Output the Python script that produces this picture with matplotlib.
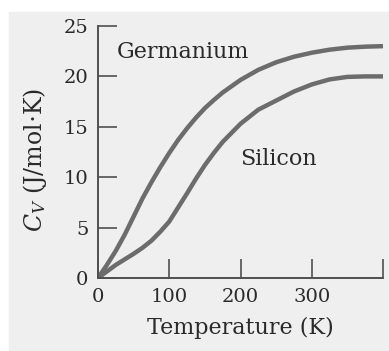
import matplotlib
matplotlib.use("Agg")
import matplotlib.pyplot as plt
from matplotlib.patches import Rectangle

# values
temp_k = [0, 12.5, 25, 37.5, 50, 62.5, 75, 87.5, 100, 112.5, 125, 137.5, 150, 162.5, 175, 200, 225, 250, 275, 300, 325, 350, 375, 400]
germanium = [0, 1.3, 2.7, 4.3, 6.1, 7.9, 9.5, 11.0, 12.4, 13.7, 14.85, 15.9, 16.85, 17.65, 18.4, 19.65, 20.65, 21.4, 21.95, 22.35, 22.65, 22.85, 22.95, 23.0]
silicon = [0, 0.65, 1.3, 1.85, 2.4, 3.0, 3.7, 4.6, 5.6, 7.0, 8.4, 9.85, 11.2, 12.4, 13.5, 15.3, 16.7, 17.6, 18.5, 19.2, 19.7, 19.95, 20.0, 20.0]

x_ticks = [0, 100, 200, 300, 400]
x_tick_labels = ["0", "100", "200", "300", ""]
y_ticks = [0, 5, 10, 15, 20, 25]

plt.rcParams['font.family'] = ['DejaVu Serif']
plt.rcParams['mathtext.fontset'] = 'dejavuserif'

fig = plt.figure(figsize=(3.89, 3.51), dpi=100)
fig.patches.append(Rectangle((9 / 389, 0), 380 / 389, 339 / 351,
                             transform=fig.transFigure, color='#efefef', zorder=-10))

ax = fig.add_axes([98 / 389, 1 - 278 / 351, 285 / 389, 252 / 351])
ax.patch.set_visible(False)
ax.set_zorder(5)

line_col = '#6c6c6c'
ax.plot(temp_k, germanium, color=line_col, lw=3.2, solid_capstyle='butt', solid_joinstyle='round')
ax.plot(temp_k, silicon, color=line_col, lw=3.2, solid_capstyle='butt', solid_joinstyle='round')

ax.set_xlim(0, 400)
ax.set_ylim(0, 25)
ax.set_xticks(x_ticks)
ax.set_xticklabels(x_tick_labels)
ax.set_yticks(y_ticks)

for s in ['top', 'right']:
    ax.spines[s].set_visible(False)
for s in ['left', 'bottom']:
    ax.spines[s].set_color('#505050')
    ax.spines[s].set_linewidth(1.4)

ax.tick_params(direction='in', length=13.5, width=1.2, color='#505050',
               labelsize=14, labelcolor='#2a2a2a', pad=7)

ax.text(27, 22.4, "Germanium", fontsize=16, color='#2a2a2a', ha='left', va='center')
ax.text(199, 11.8, "Silicon", fontsize=16, color='#2a2a2a', ha='left', va='center')

fig.text(35 / 389, 1 - 160 / 351, r"$C_V$ (J/mol$\cdot$K)", rotation=90,
         fontsize=17, color='#2a2a2a', ha='center', va='center', zorder=6)
fig.text(240 / 389, 1 - 328 / 351, "Temperature (K)", fontsize=16,
         color='#2a2a2a', ha='center', va='center', zorder=6)

fig.savefig("out.png", dpi=100)
